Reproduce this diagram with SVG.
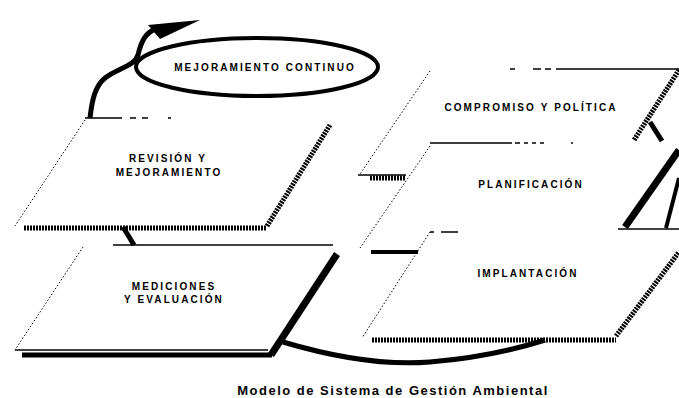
<svg xmlns="http://www.w3.org/2000/svg" width="679" height="398" viewBox="0 0 679 398">
<style>
.lbl{font-family:"Liberation Sans",Arial,sans-serif;font-size:10px;font-weight:bold;letter-spacing:2.1px;text-anchor:middle;fill:#000}
.cap{font-family:"Liberation Sans",Arial,sans-serif;font-size:13px;font-weight:bold;letter-spacing:1.5px;text-anchor:middle;fill:#000}
.dot{stroke:#000;stroke-width:1;stroke-dasharray:1.5 2;fill:none}
.solid{stroke:#000;stroke-width:1.5;fill:none}
.hatch{stroke:#000;stroke-width:5;stroke-dasharray:2 1;fill:none}
.thick{stroke:#000;stroke-width:7;fill:none}
</style>
<rect width="679" height="398" fill="#fff"/>
<g id="mejoramiento-continuo">
<ellipse cx="257" cy="67" rx="121" ry="29" fill="#fff" stroke="#000" stroke-width="4"/>
<text class="lbl" x="265" y="71">MEJORAMIENTO CONTINUO</text>
</g>
<g id="revision">
<path class="solid" d="M85 118H122M130 118h6M142 118h6M168 118h3"/>
<path class="dot" d="M85 120L15 226"/>
<path class="hatch" d="M24 228H266"/>
<path class="hatch" stroke-width="7" d="M330 125L267 226"/>
<text class="lbl" x="168" y="162">REVISIÓN Y</text>
<text class="lbl" x="169" y="176">MEJORAMIENTO</text>
</g>
<g id="mediciones">
<path class="solid" d="M113 245H333"/>
<path class="dot" d="M83 247L15 350"/>
<path class="solid" stroke-width="1" d="M15 350H268"/>
<path stroke="#000" stroke-width="5" fill="none" d="M22 355H272"/>
<path class="thick" stroke-width="9" d="M337 254L271 355"/>
<text class="lbl" x="174" y="290">MEDICIONES</text>
<text class="lbl" x="174" y="303">Y EVALUACIÓN</text>
</g>
<g id="compromiso">
<path class="solid" d="M510 69h5M533 69h8M545 69h6M556 69H679"/>
<path class="dot" d="M430 71L360 174"/>
<path class="solid" d="M358 175H406"/>
<path class="hatch" stroke-width="3" d="M370 178H405"/>
<path class="hatch" stroke-width="6" d="M679 70L634 140"/>
<path stroke="#000" stroke-width="5" fill="none" d="M650 122L662 141"/>
<text class="lbl" x="531" y="111">COMPROMISO Y POLÍTICA</text>
</g>
<g id="planificacion">
<path class="solid" d="M430 143H512M515 143h5M524 143h4M532 143h4M540 143h4M571 143h2"/>
<path class="dot" d="M430 146L360 248"/>
<path class="thick" stroke-width="8" d="M625 227L679 150"/>
<path stroke="#000" stroke-width="4" fill="none" d="M666 228L679 178"/>
<path class="solid" d="M618 229H679"/>
<text class="lbl" x="531" y="188">PLANIFICACIÓN</text>
</g>
<g id="implantacion">
<path class="dot" d="M430 232L362 338"/>
<path class="solid" d="M430 232h4M441 232h17"/>
<path stroke="#000" stroke-width="4" fill="none" d="M371 252H418"/>
<path class="hatch" stroke-width="4" d="M372 340H616"/>
<path class="hatch" stroke-width="7" d="M616 336L679 252"/>
<text class="lbl" x="528" y="277">IMPLANTACIÓN</text>
</g>
<g id="connectors">
<path stroke="#000" stroke-width="5" fill="none" d="M90 118C92 100 95 86 105 78C118 68 135 66 138 55C141 42 145 32 158 28"/>
<polygon points="148,25 200,20 160,39" fill="#000"/>
<path stroke="#000" stroke-width="5" fill="none" d="M123 227L134 245"/>
<path stroke="#000" stroke-width="5" fill="none" d="M283 342C330 356 380 366 430 362C480 358 520 348 545 340"/>
</g>
<text class="cap" x="393" y="395">Modelo de Sistema de Gestión Ambiental</text>
</svg>
